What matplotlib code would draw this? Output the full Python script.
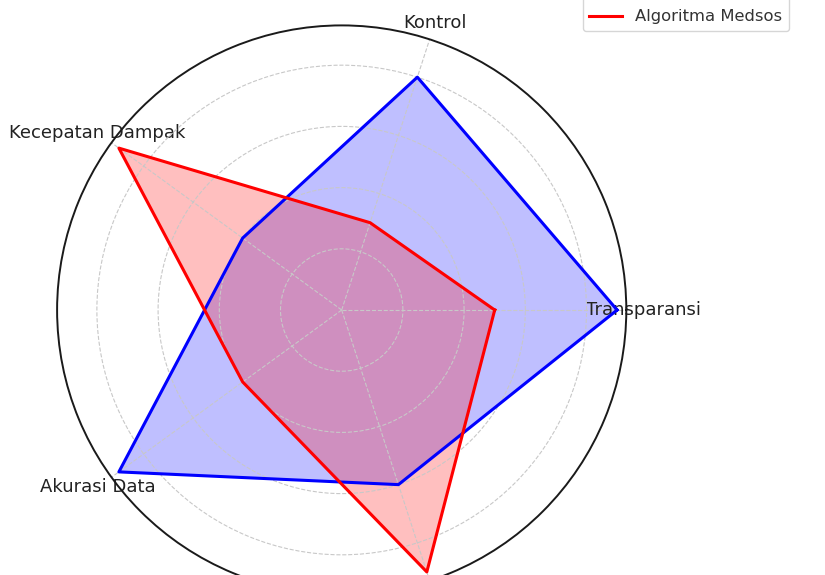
import numpy as np
import matplotlib
matplotlib.use("Agg")
import matplotlib.pyplot as plt

plt.rcParams["font.family"] = ["DejaVu Sans"]

categories = ["Transparansi", "Kontrol", "Kecepatan Dampak", "Akurasi Data", "Akuntabilitas"]
series_names = ["Media Tradisional", "Algoritma Medsos"]
values_blue = [9, 8, 4, 9, 6]
values_red = [5, 3, 9, 4, 9]
colors = ["blue", "red"]

n = len(categories)
angles = np.linspace(0, 2 * np.pi, n, endpoint=False).tolist()
angles_closed = angles + angles[:1]

fig = plt.figure(figsize=(8.25, 5.75), dpi=100)
ax = fig.add_axes([57.1 / 825, (575 - 594.6) / 575, 569.2 / 825, 569.2 / 575], projection="polar")

for vals, name, c in zip([values_blue, values_red], series_names, colors):
    v = vals + vals[:1]
    ax.plot(angles_closed, v, color=c, linewidth=2.2, label=name)
    ax.fill(angles_closed, v, color=c, alpha=0.25)

ax.set_xticks(angles)
ax.set_xticklabels(categories, fontsize=13, color="#222222")
ax.tick_params(axis="x", pad=2)
ax.set_ylim(0, 9.3)
ax.set_yticks([2, 4, 6, 8])
ax.set_yticklabels([])
ax.grid(True, linestyle="--", color="#c8c8c8", linewidth=0.8)
ax.spines["polar"].set_linewidth(1.4)
ax.spines["polar"].set_color("#1a1a1a")

ax.legend(loc="upper right", bbox_to_anchor=(1.3, 1.095), fontsize=11.8, labelcolor="#333333")

fig.savefig("out.png", dpi=100)
